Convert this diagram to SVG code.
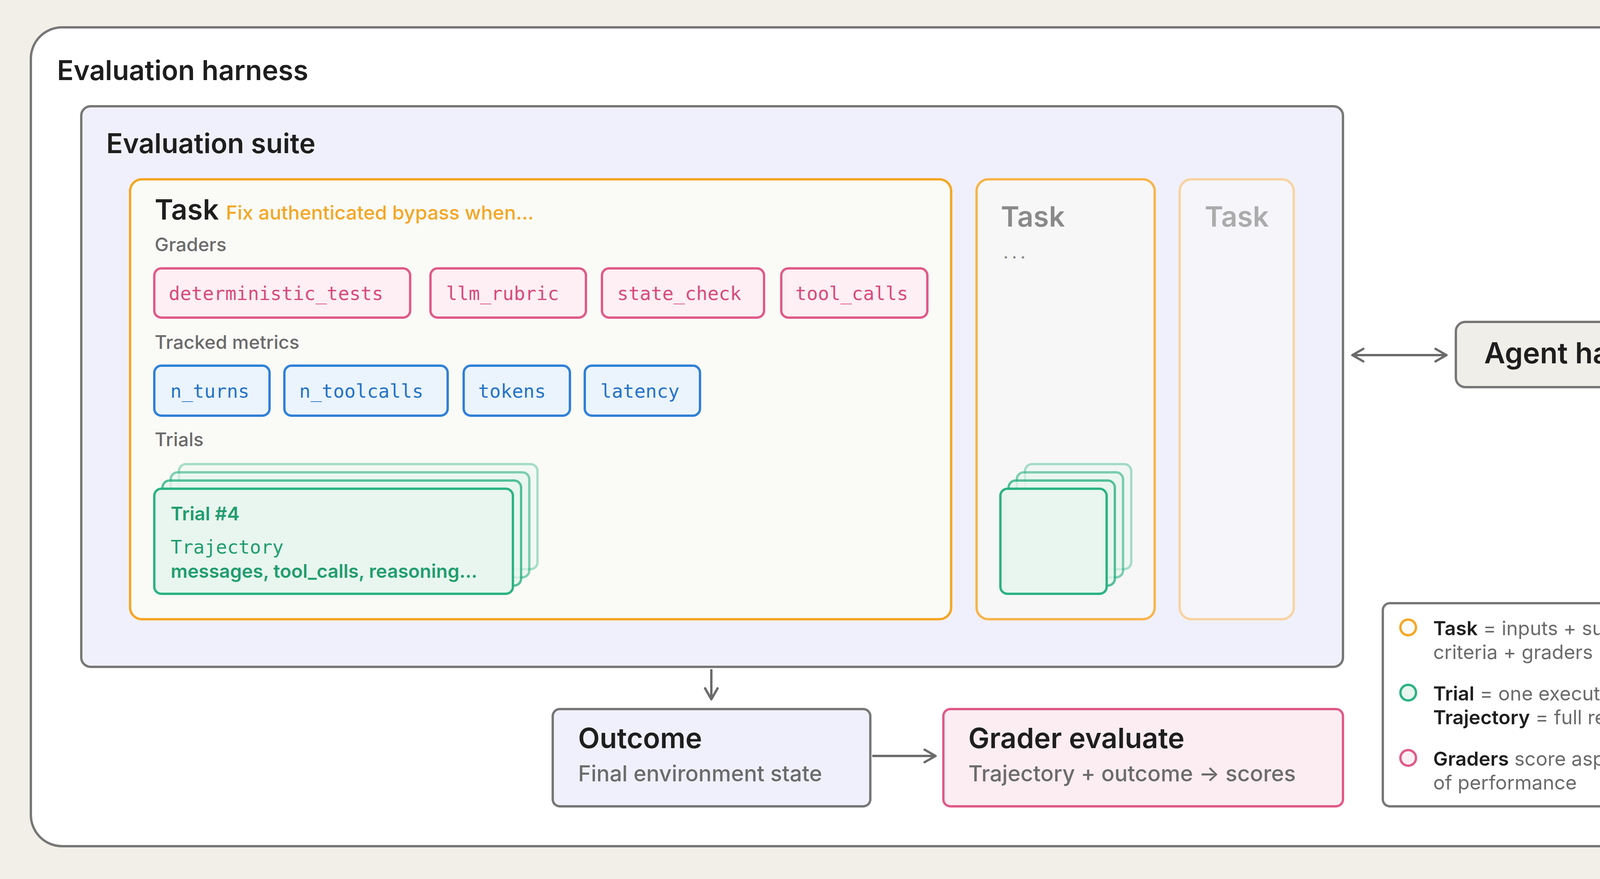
<svg xmlns="http://www.w3.org/2000/svg" width="4584" height="2250" viewBox="0 0 4584 2250">
<style>
.s{font-family:Inter,"Noto Sans",sans-serif}
.m{font-family:"DejaVu Sans Mono","Liberation Mono",monospace;font-size:48px}
.h{font-family:Inter,"Noto Sans",sans-serif;font-weight:600;font-size:72px;fill:#1e1e1e}
.lab{font-family:Inter,"Noto Sans",sans-serif;font-weight:500;font-size:48px;fill:#6b6b6b}
.g rect{fill:#fdeff3;stroke:#e05a88;stroke-width:6}
.g text{fill:#d94a7c}
.mt rect{fill:#ebf4fd;stroke:#2f80d8;stroke-width:6}
.mt text{fill:#2473c9}
.tr{fill:#e8f6ef;stroke:#2bb383;stroke-width:6}
.lg{font-family:Inter,"Noto Sans",sans-serif;font-size:50px;fill:#6b6b6b}
.lg tspan.b{fill:#1e1e1e;font-weight:600}
</style>
<defs>
<marker id="a" viewBox="0 0 20 20" refX="18" refY="10" markerWidth="40" markerHeight="40" markerUnits="userSpaceOnUse" orient="auto-start-reverse">
<path d="M4 2 L18 10 L4 18" fill="none" stroke="#6b6b6b" stroke-width="3" stroke-linecap="round" stroke-linejoin="round"/>
</marker>
</defs>
<rect width="4584" height="2250" fill="#f2efe8"/>
<g id="harness">
<rect x="79" y="70" width="4417" height="2096" rx="80" fill="#fff" stroke="#777" stroke-width="6"/>
<text x="146" y="205" class="h" style="font-size:70px">Evaluation harness</text>
</g>
<g id="suite">
<rect x="208" y="272" width="3230" height="1435" rx="24" fill="#f0f0fc" stroke="#777" stroke-width="6"/>
<text x="272" y="392" class="h" style="font-size:70px">Evaluation suite</text>
</g>
<g id="task1">
<rect x="333" y="459" width="2102" height="1126" rx="30" fill="#fafaf7" stroke="#f5a623" stroke-width="6"/>
<text x="396" y="562" class="h">Task <tspan style="font-size:50px;fill:#f5a623;font-weight:500">Fix authenticated bypass when...</tspan></text>
<text x="396" y="643" class="lab">Graders</text>
<g class="g">
<rect x="395" y="687" width="655" height="126" rx="18"/><text x="432" y="768" class="m">deterministic_tests</text>
<rect x="1102" y="687" width="398" height="126" rx="18"/><text x="1142" y="768" class="m">llm_rubric</text>
<rect x="1541" y="687" width="415" height="126" rx="18"/><text x="1580" y="768" class="m">state_check</text>
<rect x="2000" y="687" width="374" height="126" rx="18"/><text x="2036" y="768" class="m">tool_calls</text>
</g>
<text x="396" y="893" class="lab">Tracked metrics</text>
<g class="mt">
<rect x="395" y="936" width="295" height="128" rx="18"/><text x="436" y="1018" class="m">n_turns</text>
<rect x="728" y="936" width="418" height="128" rx="18"/><text x="766" y="1018" class="m">n_toolcalls</text>
<rect x="1187" y="936" width="272" height="128" rx="18"/><text x="1224" y="1018" class="m">tokens</text>
<rect x="1497" y="936" width="295" height="128" rx="18"/><text x="1537" y="1018" class="m">latency</text>
</g>
<text x="396" y="1142" class="lab">Trials</text>
<g id="trials1">
<rect x="458" y="1188" width="918" height="269" rx="18" class="tr" opacity="0.4"/>
<rect x="437" y="1209" width="918" height="269" rx="18" class="tr" opacity="0.6"/>
<rect x="416" y="1230" width="918" height="269" rx="18" class="tr" opacity="0.8"/>
<rect x="395" y="1251" width="918" height="269" rx="18" class="tr"/>
<text x="437" y="1332" class="s" style="font-size:48px;font-weight:600;fill:#1f9e6e">Trial #4</text>
<text x="437" y="1417" class="m" style="fill:#1f9e6e">Trajectory</text>
<text x="437" y="1479" class="s" style="font-size:48px;font-weight:600;fill:#1f9e6e">messages, tool_calls, reasoning...</text>
</g>
</g>
<g id="task2">
<rect x="2500" y="459" width="456" height="1126" rx="30" fill="#f7f7f7" stroke="#f7b44a" stroke-width="6"/>
<text x="2562" y="580" class="h" style="fill:#8a8a8a">Task</text>
<text x="2568" y="662" class="s" style="font-size:48px;fill:#8a8a8a;letter-spacing:8px">...</text>
<rect x="2624" y="1188" width="272" height="269" rx="18" class="tr" opacity="0.4"/>
<rect x="2603" y="1209" width="272" height="269" rx="18" class="tr" opacity="0.6"/>
<rect x="2582" y="1230" width="272" height="269" rx="18" class="tr" opacity="0.8"/>
<rect x="2561" y="1251" width="272" height="269" rx="18" class="tr"/>
</g>
<g id="task3">
<rect x="3020" y="459" width="292" height="1126" rx="30" fill="#f5f5fa" stroke="#f8d3a0" stroke-width="6"/>
<text x="3084" y="580" class="h" style="fill:#ababab">Task</text>
</g>
<g id="agent">
<rect x="3727" y="824" width="667" height="167" rx="24" fill="#f0eee8" stroke="#777" stroke-width="6"/>
<text x="4060" y="930" text-anchor="middle" class="h" style="font-size:74px">Agent harness</text>
</g>
<g id="outcome">
<rect x="1415" y="1815" width="813" height="249" rx="18" fill="#f0f0fc" stroke="#777" stroke-width="6"/>
<text x="1480" y="1915" class="h">Outcome</text>
<text x="1480" y="2000" class="s" style="font-size:56px;font-weight:500;fill:#6b6b6b">Final environment state</text>
</g>
<g id="grader">
<rect x="2415" y="1815" width="1023" height="249" rx="18" fill="#fcedf2" stroke="#e05a88" stroke-width="6"/>
<text x="2479" y="1915" class="h">Grader evaluate</text>
<text x="2479" y="2000" class="s" style="font-size:56px;font-weight:500;fill:#6b6b6b">Trajectory + outcome → scores</text>
</g>
<g id="legend">
<rect x="3540" y="1544" width="854" height="520" rx="18" fill="#fff" stroke="#777" stroke-width="6"/>
<circle cx="3605" cy="1606" r="20" fill="#fafaf7" stroke="#f5a623" stroke-width="6"/>
<circle cx="3605" cy="1773" r="20" fill="#e8f6ef" stroke="#2bb383" stroke-width="6"/>
<circle cx="3605" cy="1940" r="20" fill="#fdeff3" stroke="#e05a88" stroke-width="6"/>
<text class="lg" x="3669" y="1626"><tspan class="b">Task</tspan> = inputs + success</text>
<text class="lg" x="3669" y="1687">criteria + graders + metrics</text>
<text class="lg" x="3669" y="1793"><tspan class="b">Trial</tspan> = one execution</text>
<text class="lg" x="3669" y="1854"><tspan class="b">Trajectory</tspan> = full record</text>
<text class="lg" x="3669" y="1960"><tspan class="b">Graders</tspan> score aspects</text>
<text class="lg" x="3669" y="2021">of performance</text>
</g>
<g id="connectors" stroke="#6b6b6b" stroke-width="6" fill="none">
<line x1="3462" y1="909" x2="3703" y2="909" marker-start="url(#a)" marker-end="url(#a)"/>
<line x1="1821" y1="1713" x2="1821" y2="1790" marker-end="url(#a)"/>
<line x1="2233" y1="1935" x2="2395" y2="1935" marker-end="url(#a)"/>
</g>
</svg>
